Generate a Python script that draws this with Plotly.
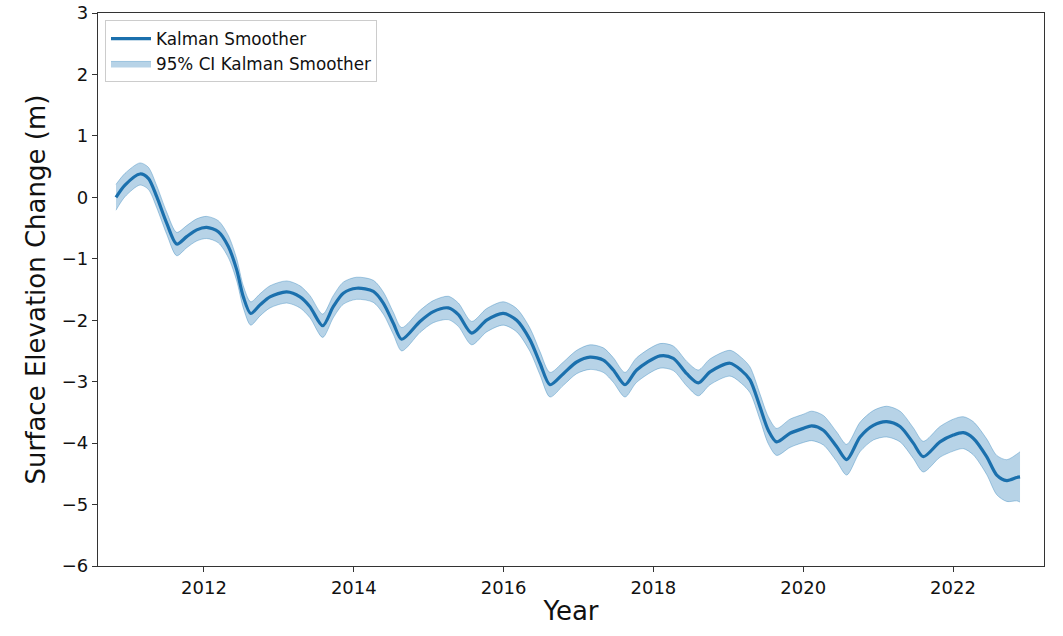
import plotly.graph_objects as go

# Smoothed surface elevation change (m) by decimal year
years = [
    2010.825, 2010.945, 2011.146, 2011.257, 2011.369, 2011.502, 2011.636, 2011.769,
    2011.903, 2012.036, 2012.191, 2012.325, 2012.437, 2012.525, 2012.624, 2012.748,
    2012.881, 2013.104, 2013.282, 2013.415, 2013.585, 2013.726, 2013.860, 2014.039,
    2014.261, 2014.394, 2014.528, 2014.640, 2014.884, 2015.062, 2015.262, 2015.396,
    2015.574, 2015.774, 2015.996, 2016.175, 2016.353, 2016.486, 2016.620, 2016.798,
    2016.976, 2017.154, 2017.332, 2017.465, 2017.621, 2017.777, 2018.088, 2018.266,
    2018.445, 2018.600, 2018.756, 2019.023, 2019.177, 2019.290, 2019.423, 2019.534,
    2019.646, 2019.824, 2020.002, 2020.114, 2020.269, 2020.448, 2020.581, 2020.759,
    2020.936, 2021.115, 2021.293, 2021.470, 2021.604, 2021.826, 2022.004, 2022.137,
    2022.270, 2022.449, 2022.584, 2022.718, 2022.851, 2022.895,
]
elevation = [
    0.00, 0.20, 0.38, 0.31, 0.01, -0.42, -0.76, -0.64,
    -0.53, -0.49, -0.56, -0.80, -1.18, -1.62, -1.89, -1.75,
    -1.62, -1.54, -1.62, -1.78, -2.09, -1.78, -1.56, -1.48,
    -1.53, -1.72, -2.05, -2.31, -2.02, -1.86, -1.80, -1.91,
    -2.21, -2.00, -1.89, -2.00, -2.32, -2.70, -3.05, -2.87,
    -2.68, -2.60, -2.65, -2.81, -3.05, -2.81, -2.58, -2.62,
    -2.87, -3.02, -2.84, -2.70, -2.82, -2.97, -3.41, -3.79,
    -3.98, -3.84, -3.76, -3.72, -3.79, -4.06, -4.27, -3.90,
    -3.71, -3.65, -3.73, -4.00, -4.22, -3.98, -3.87, -3.83,
    -3.92, -4.22, -4.52, -4.61, -4.56, -4.55,
]
# Half-width of the 95% confidence interval (m)
ci_half = [
    0.21, 0.19, 0.18, 0.18, 0.18, 0.18, 0.19, 0.18,
    0.18, 0.18, 0.18, 0.18, 0.18, 0.18, 0.19, 0.18,
    0.18, 0.18, 0.18, 0.18, 0.19, 0.18, 0.18, 0.18,
    0.18, 0.18, 0.18, 0.19, 0.18, 0.18, 0.19, 0.19,
    0.19, 0.19, 0.19, 0.19, 0.19, 0.19, 0.20, 0.19,
    0.19, 0.20, 0.20, 0.20, 0.20, 0.20, 0.20, 0.20,
    0.20, 0.21, 0.21, 0.21, 0.21, 0.21, 0.21, 0.22,
    0.22, 0.23, 0.23, 0.24, 0.24, 0.24, 0.25, 0.24,
    0.24, 0.25, 0.25, 0.25, 0.25, 0.25, 0.26, 0.26,
    0.27, 0.29, 0.32, 0.34, 0.38, 0.41,
]

x_ticks = [2012, 2014, 2016, 2018, 2020, 2022]

upper = [v + h for v, h in zip(elevation, ci_half)]
lower = [v - h for v, h in zip(elevation, ci_half)]

blue = "#1b70ad"
font_family = "DejaVu Sans, Liberation Sans, sans-serif"

fig = go.Figure()

fig.add_trace(go.Scatter(
    x=years, y=lower, mode="lines",
    line=dict(color="rgba(31,119,180,0.35)", width=1, shape="spline", smoothing=0.8),
    showlegend=False, hoverinfo="skip",
))
fig.add_trace(go.Scatter(
    x=years, y=upper, mode="lines", fill="tonexty",
    fillcolor="rgba(31,119,180,0.32)",
    line=dict(color="rgba(31,119,180,0.35)", width=1, shape="spline", smoothing=0.8),
    name="95% CI Kalman Smoother", legendrank=2,
))
fig.add_trace(go.Scatter(
    x=years, y=elevation, mode="lines",
    line=dict(color=blue, width=3.2, shape="spline", smoothing=0.8),
    name="Kalman Smoother", legendrank=1,
))

axis_common = dict(
    showline=True, linecolor="#333333", linewidth=1.2, mirror=True,
    ticks="outside", ticklen=5, tickwidth=1.2, tickcolor="#333333",
    showgrid=False, zeroline=False, automargin=False,
    tickfont=dict(family=font_family, size=18, color="#111111"),
)

fig.update_layout(
    width=1063, height=636,
    margin=dict(l=98, r=19, t=13, b=70),
    paper_bgcolor="white", plot_bgcolor="white",
    font=dict(family=font_family, color="#111111"),
    xaxis=dict(
        range=[2010.585, 2023.215], tickvals=x_ticks,
        title=dict(text="Year", font=dict(family=font_family, size=26), standoff=5),
        **axis_common,
    ),
    yaxis=dict(
        range=[-6, 3], dtick=1, tick0=0,
        title=dict(text="Surface Elevation Change (m)", font=dict(family=font_family, size=26), standoff=8),
        **axis_common,
    ),
    legend=dict(
        x=0.0074, y=0.987, xanchor="left", yanchor="top",
        bgcolor="rgba(255,255,255,0.9)", bordercolor="#cccccc", borderwidth=1,
        font=dict(family=font_family, size=16.8, color="#111111"),
        traceorder="normal", itemwidth=40,
    ),
    showlegend=True,
)

fig.write_html("out.html")
